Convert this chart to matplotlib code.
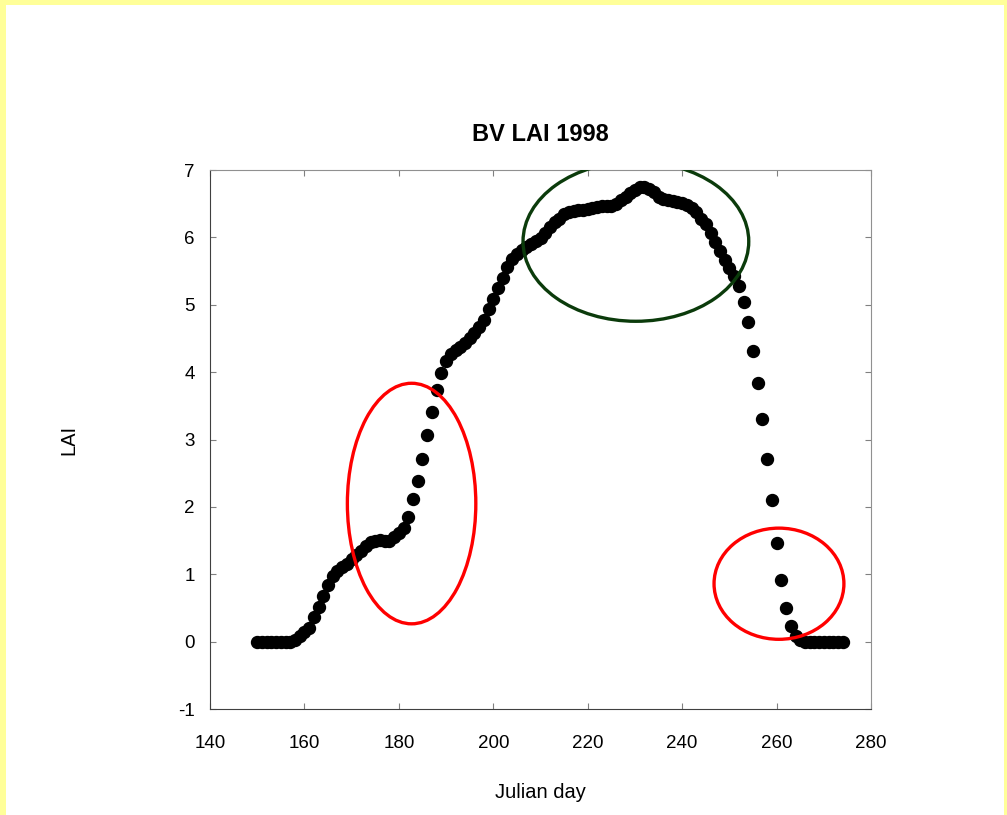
import numpy as np
import matplotlib
matplotlib.use("Agg")
import matplotlib.pyplot as plt
from matplotlib.patches import Ellipse, Rectangle

plt.rcParams['font.family'] = ['Liberation Sans', 'DejaVu Sans']
plt.rcParams['axes.unicode_minus'] = False

# Julian days 150..274, LAI
days = list(range(150, 275))
lai = [
    0, 0, 0, 0, 0, 0, 0, 0, 0.03, 0.09,                         # 150-159
    0.14, 0.21, 0.36, 0.51, 0.68, 0.84, 0.97, 1.05, 1.11, 1.16,  # 160-169
    1.22, 1.28, 1.35, 1.42, 1.48, 1.49, 1.51, 1.50, 1.50, 1.56,  # 170-179
    1.62, 1.68, 1.85, 2.11, 2.38, 2.71, 3.07, 3.41, 3.74, 3.99,  # 180-189
    4.17, 4.27, 4.33, 4.38, 4.43, 4.50, 4.58, 4.67, 4.78, 4.94,  # 190-199
    5.09, 5.25, 5.40, 5.56, 5.68, 5.75, 5.82, 5.86, 5.90, 5.94,  # 200-209
    5.99, 6.07, 6.16, 6.23, 6.28, 6.34, 6.37, 6.39, 6.40, 6.41,  # 210-219
    6.42, 6.44, 6.45, 6.46, 6.46, 6.47, 6.49, 6.55, 6.60, 6.66,  # 220-229
    6.71, 6.75, 6.75, 6.72, 6.67, 6.60, 6.57, 6.55, 6.54, 6.53,  # 230-239
    6.51, 6.48, 6.44, 6.37, 6.28, 6.20, 6.07, 5.93, 5.80, 5.67,  # 240-249
    5.55, 5.43, 5.28, 5.04, 4.74, 4.31, 3.84, 3.31, 2.71, 2.10,  # 250-259
    1.46, 0.91, 0.50, 0.23, 0.08, 0.02, 0, 0, 0, 0,              # 260-269
    0, 0, 0, 0, 0,                                               # 270-274
]

# highlighted regions: (centre day, centre LAI, width days, height LAI, colour)
ellipses = [
    (182.7, 2.05, 27.2, 3.57, "#ff0000"),
    (230.2, 5.94, 47.8, 2.37, "#0b3b0b"),
    (260.5, 0.86, 27.5, 1.65, "#ff0000"),
]

fig = plt.figure(figsize=(10.07, 8.15), dpi=100)
fig.patch.set_facecolor("#ffff99")
# white panel inside the yellow frame
fig.patches.append(Rectangle((6 / 1007, 0), 998 / 1007, 810 / 815,
                             transform=fig.transFigure, facecolor="white",
                             edgecolor="none", zorder=-10))

ax = fig.add_axes([0.2085, 0.130, 0.6565, 0.6614])
ax.set_facecolor("white")

ax.plot(days, lai, "o", color="black", markersize=8.6, zorder=3)

for cx, cy, w, h, c in ellipses:
    ax.add_patch(Ellipse((cx, cy), w, h, fill=False, edgecolor=c,
                         linewidth=2.4, zorder=4))

ax.set_xlim(140, 280)
ax.set_ylim(-1, 7)
ax.set_xticks(range(140, 281, 20))
ax.set_yticks(range(-1, 8))

ax.tick_params(direction="in", top=True, right=True, length=4.5,
               color="#808080", labelsize=13.5, pad=11)
ax.tick_params(axis="x", pad=19)
for side in ["left", "bottom"]:
    ax.spines[side].set_color("#404040")
for side in ["top", "right"]:
    ax.spines[side].set_color("#909090")

ax.set_title("BV LAI 1998", fontsize=17, fontweight="bold", pad=21)
ax.set_xlabel("Julian day", fontsize=14.5, labelpad=22)
ax.set_ylabel("LAI", fontsize=14.5, labelpad=72)

fig.savefig("out.png", dpi=100)
